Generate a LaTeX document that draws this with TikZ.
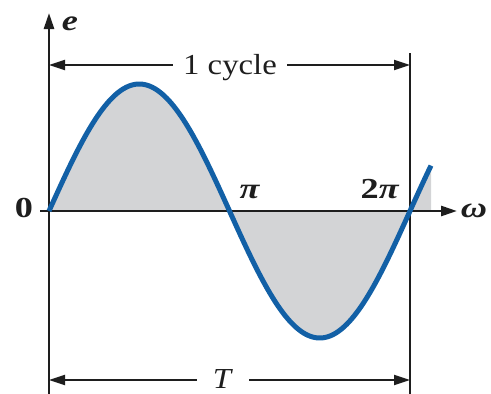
\documentclass[tikz,border=0pt]{standalone}
\usepackage{graphicx}
\usepackage{fontspec}
\setmainfont{Liberation Serif}
\usetikzlibrary{arrows.meta}
\definecolor{waveblue}{RGB}{18,96,166}
\definecolor{wavefill}{RGB}{211,212,214}
\definecolor{axisblack}{RGB}{30,30,30}
\newcommand{\txtstretch}[1]{\scalebox{1.13}[1]{#1}}
\newcommand{\lblstretch}[1]{\scalebox{1.25}[1]{#1}}
\begin{document}
\begin{tikzpicture}[x=1pt,y=-1pt,
  axis/.style={line width=2.6pt, draw=axisblack},
  dim/.style={line width=2.2pt, draw=axisblack},
  tip/.style={-{Triangle[length=16pt,width=10pt]}},
  lbl/.style={font=\fontsize{29}{31}\selectfont, inner sep=0pt, anchor=base, text=axisblack},
  mlbl/.style={font=\fontsize{29}{31}\selectfont\bfseries, inner sep=0pt, anchor=base, text=axisblack},
  wave/.style={line width=5pt, draw=waveblue}]
\useasboundingbox (0,0) rectangle (491,394);
% coordinates
\coordinate (O) at (49,211);
\coordinate (ytop) at (49,13);
\coordinate (ybot) at (49,394);
\coordinate (xl) at (40,211);
\coordinate (xr) at (457,211);
\coordinate (rtop) at (410,53);
\coordinate (rbot) at (410,394);
\coordinate (c1l) at (49,65);
\coordinate (c1r) at (410,65);
\coordinate (tl) at (49,380);
\coordinate (tr) at (410,380);
\coordinate (wend) at (431,211);
% fill
\fill[wavefill] (O) -- plot[domain=49:431,samples=160] (\x,{211-127*sin((\x-49)/361*360)}) -- (wend) -- cycle;
% axes
\draw[axis,tip] (ybot) -- (ytop);
\draw[axis,tip] (xl) -- (xr);
\draw[axis] (rtop) -- (rbot);
% wave
\draw[wave] plot[domain=49:431,samples=160] (\x,{211-127*sin((\x-49)/361*360)});
% labels
\node[lbl] (cyc) at (230,74) {\txtstretch{1 cycle}};
\node[lbl] (per) at (223,388) {\txtstretch{\textit{T}}};
\node[mlbl] (zero) at (24,217) {\lblstretch{0}};
\node[mlbl] (pi) at (250,198) {\lblstretch{\textit{π}}};
\node[mlbl] (twopi) at (380,198) {\lblstretch{2\textit{π}}};
\node[mlbl] (e) at (70,30) {\lblstretch{\textit{e}}};
\node[mlbl] (om) at (474,217) {\lblstretch{\textit{ω}}};
% dimension arrows
\draw[dim,tip] ([xshift=-10pt]cyc.west |- c1l) -- (c1l);
\draw[dim,tip] ([xshift=10pt]cyc.east |- c1r) -- (c1r);
\draw[dim,tip] ([xshift=-16pt]per.west |- tl) -- (tl);
\draw[dim,tip] ([xshift=16pt]per.east |- tr) -- (tr);
\end{tikzpicture}
\end{document}
